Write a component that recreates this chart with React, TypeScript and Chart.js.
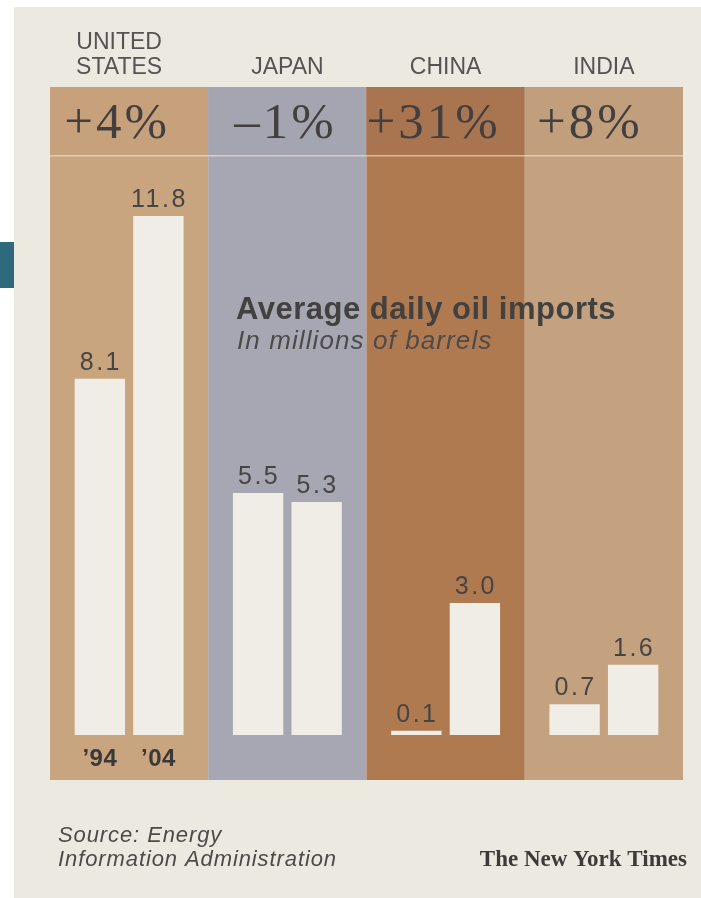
import React, { useEffect, useRef } from "react";
import { Chart, registerables } from "chart.js";

Chart.register(...registerables);

const countryLabels: string[][] = [["UNITED", "STATES"], ["JAPAN"], ["CHINA"], ["INDIA"]];
const imports1994: number[] = [8.1, 5.5, 0.1, 0.7];
const imports2004: number[] = [11.8, 5.3, 3.0, 1.6];
const valueText1994: string[] = ["8.1", "5.5", "0.1", "0.7"];
const valueText2004: string[] = ["11.8", "5.3", "3.0", "1.6"];
const changeLabels: string[] = ["+4%", "\u20131%", "+31%", "+8%"];
const yearLabels: string[] = ["\u201994", "\u201904"];
const panelColors: string[] = ["#c8a57f", "#a7a7b3", "#b07a50", "#c4a27f"];
const headerColors: string[] = ["#c6a17b", "#a5a5b1", "#a97450", "#c29f7c"];
const titleText = "Average daily oil imports";
const subtitleText = "In millions of barrels";
const sourceLines: string[] = ["Source: Energy", "Information Administration"];
const creditText = "The New York Times";

const PAPER = "#ece9e0";
const BAR = "#efede6";
const INK = "#474444";

const decorPlugin = {
  id: "decor",
  beforeDraw(chart: any) {
    const ctx = chart.ctx as CanvasRenderingContext2D;
    const { chartArea, scales } = chart;
    const x = scales.x;
    ctx.save();
    ctx.fillStyle = "#ffffff";
    ctx.fillRect(0, 0, chart.width, chart.height);
    ctx.fillStyle = PAPER;
    ctx.fillRect(14, 7, chart.width - 14, chart.height - 7);
    ctx.fillStyle = "#2e6a7c";
    ctx.fillRect(0, 242, 14, 46);
    const n = countryLabels.length;
    const cw = x.width / n;
    for (let i = 0; i < n; i++) {
      const cx = x.getPixelForValue(i);
      const l = cx - cw / 2;
      ctx.fillStyle = panelColors[i];
      ctx.fillRect(l, chartArea.top, cw, chartArea.bottom - chartArea.top);
      ctx.fillStyle = headerColors[i];
      ctx.fillRect(l, chartArea.top, cw, 68);
      ctx.fillStyle = "rgba(250,235,215,0.55)";
      ctx.fillRect(l, chartArea.top + 68, cw, 1.5);
    }
    // country names
    ctx.fillStyle = "#555353";
    ctx.font = '23px "Liberation Sans", Arial, sans-serif';
    ctx.textAlign = "center";
    ctx.textBaseline = "alphabetic";
    for (let i = 0; i < n; i++) {
      const lines = countryLabels[i];
      const cx = x.getPixelForValue(i);
      for (let k = 0; k < lines.length; k++) {
        const yy = 74 - (lines.length - 1 - k) * 25;
        ctx.fillText(lines[k], cx - 10 + (i === 0 ? 0 : 10), yy);
      }
    }
    // percent changes
    ctx.fillStyle = "#433f3f";
    ctx.font = '51px "Liberation Serif", "Times New Roman", serif';
    (ctx as any).letterSpacing = "3px";
    ctx.textBaseline = "middle";
    for (let i = 0; i < n; i++) {
      const cx = x.getPixelForValue(i);
      ctx.fillText(changeLabels[i], cx - 12 + (i === 1 ? 10 : 0) + (i === 3 ? -2 : 0), chartArea.top + 38);
    }
    ctx.restore();
  },
  afterDatasetsDraw(chart: any) {
    const ctx = chart.ctx as CanvasRenderingContext2D;
    const { scales } = chart;
    const y = scales.y;
    ctx.save();
    ctx.textAlign = "center";
    ctx.textBaseline = "alphabetic";
    ctx.fillStyle = INK;
    ctx.font = '25px "Liberation Sans", Arial, sans-serif';
    (ctx as any).letterSpacing = "2.5px";
    const texts = [valueText1994, valueText2004];
    for (let d = 0; d < 2; d++) {
      const meta = chart.getDatasetMeta(d);
      meta.data.forEach((bar: any, i: number) => {
        ctx.fillText(texts[d][i], bar.x + 1, bar.y - 9);
      });
    }
    // year labels under first group
    ctx.font = 'bold 24px "Liberation Sans", Arial, sans-serif';
    (ctx as any).letterSpacing = "0.5px";
    ctx.fillStyle = "#3b3838";
    for (let d = 0; d < 2; d++) {
      const bar: any = chart.getDatasetMeta(d).data[0];
      ctx.fillText(yearLabels[d], bar.x, y.getPixelForValue(0) + 31);
    }
    // title
    ctx.textAlign = "left";
    ctx.fillStyle = "#434040";
    ctx.font = 'bold 31px "Liberation Sans", Arial, sans-serif';
    (ctx as any).letterSpacing = "0.5px";
    ctx.fillText(titleText, 236, 319);
    ctx.font = 'italic 26px "Liberation Sans", Arial, sans-serif';
    (ctx as any).letterSpacing = "1.1px";
    ctx.fillStyle = "#4d4a4a";
    ctx.fillText(subtitleText, 237, 349);
    // source
    ctx.font = 'italic 22px "Liberation Sans", Arial, sans-serif';
    (ctx as any).letterSpacing = "0.9px";
    ctx.fillStyle = "#4d4a4a";
    ctx.fillText(sourceLines[0], 58, 842);
    ctx.fillText(sourceLines[1], 58, 866);
    ctx.textAlign = "right";
    ctx.font = 'bold 23px "Liberation Serif", "Times New Roman", serif';
    (ctx as any).letterSpacing = "0px";
    ctx.fillStyle = "#3d3a3a";
    ctx.fillText(creditText, 687, 866);
    ctx.restore();
  },
};

export default function App() {
  const ref = useRef<HTMLCanvasElement | null>(null);
  useEffect(() => {
    if (!ref.current) return;
    const chart = new Chart(ref.current, {
      type: "bar",
      data: {
        labels: countryLabels.map((l) => l.join(" ")),
        datasets: [
          {
            label: "1994",
            data: imports1994,
            backgroundColor: BAR,
            borderWidth: 0,
            categoryPercentage: 0.74,
            barPercentage: 0.86,
          },
          {
            label: "2004",
            data: imports2004,
            backgroundColor: BAR,
            borderWidth: 0,
            categoryPercentage: 0.74,
            barPercentage: 0.86,
          },
        ],
      },
      options: {
        responsive: false,
        animation: false,
        devicePixelRatio: 1,
        layout: { padding: { left: 50, right: 18, top: 87, bottom: 118 } },
        plugins: {
          legend: { display: false },
          tooltip: { enabled: false },
          title: { display: false },
        },
        scales: {
          x: { display: false, grid: { display: false } },
          y: { display: false, min: -1.02, max: 14.73, grid: { display: false } },
        },
      },
      plugins: [decorPlugin],
    });
    return () => chart.destroy();
  }, []);
  return (
    <div style={{ position: "absolute", left: 0, top: 0, width: 701, height: 898 }}>
      <canvas ref={ref} width={701} height={898} style={{ display: "block", width: 701, height: 898 }} />
    </div>
  );
}
